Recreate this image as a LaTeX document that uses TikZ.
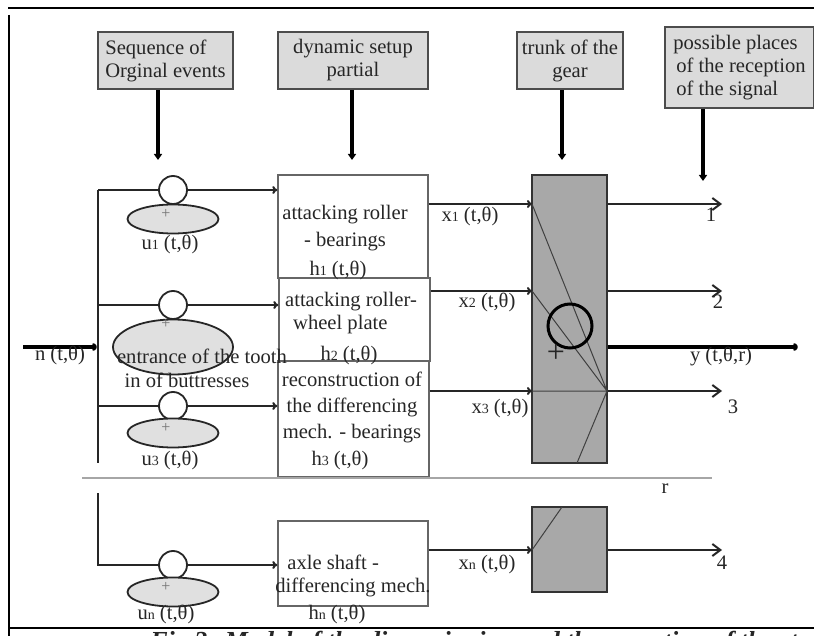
\documentclass[tikz,border=0pt]{standalone}
\usepackage{fontspec}
\setmainfont{Liberation Serif}
\usepackage{tikz}
\usetikzlibrary{positioning,arrows.meta,shapes.geometric}
\newcommand{\idx}[1]{{\fontsize{7}{7}\selectfont #1}}
\newcommand{\tth}{(t,θ)}

\begin{document}
\begin{tikzpicture}[
x=0.5pt, y=-0.5pt,
font=\fontsize{10.3}{11.5}\selectfont,
every node/.style={text=black!85},
headbox/.style={draw=black!70, fill=black!14, line width=0.8pt, inner sep=1pt, minimum height=28.5pt},
blockbox/.style={draw=black!60, fill=white, line width=0.7pt},
trunkbox/.style={draw=black!80, fill=black!34, line width=0.8pt},
roundnode/.style={circle, draw=black!85, fill=white, line width=0.9pt, minimum size=14pt, inner sep=0pt},
ovalnode/.style={ellipse, draw=black!85, fill=black!12, line width=0.9pt, minimum width=45.5pt, minimum height=14.5pt, inner sep=0pt},
txt/.style={inner sep=0pt},
plusmark/.style={inner sep=0pt, text=black!55, font=\fontsize{8}{8}\selectfont},
feed/.style={draw=black, line width=1.6pt, -{Triangle[length=3pt,width=4pt]}},
sig/.style={draw=black!85, line width=1pt, -{To[length=2.5pt,width=4pt]}},
outsig/.style={draw=black!85, line width=1pt, -{Straight Barb[length=4pt,width=6pt]}},
thinline/.style={draw=black!75, line width=0.5pt}
]
    \useasboundingbox (0,0) rectangle (814,636);

    %Frame
    \draw[line width=1pt] (8,8.5) -- (814,8.5);
    \draw[line width=1pt] (9,15) -- (9,636);
    \draw[line width=1pt] (9,628) -- (814,628);
    \begin{scope}
        \clip (0,0) rectangle (814,636);
        \node[txt, anchor=base west, font=\fontsize{13}{15}\selectfont\bfseries\itshape]
            (cap) at (150,649) {Fig.3: Model of the dimensioning and the reception of the standard shaft};
    \end{scope}

    %Headers
    \node[headbox, minimum width=67.5pt, align=left]
        (hseq)      at (165.5,60.5)  {Sequence of\\Orginal events};
    \node[headbox, minimum width=75pt, align=center]
        (hdyn)      at (353,60.5)    {dynamic setup\\partial};
    \node[headbox, minimum width=53pt, align=center]
        (htrunk)    at (570,60.5)    {trunk of the\\gear};
    \node[headbox, minimum width=74.5pt, minimum height=40.5pt, align=left]
        (hplace)    at (739.5,67.5)  {possible places\\\hspace{1.5pt}of the reception\\\hspace{1.5pt}of the signal};

    %Blocks
    \node[blockbox, minimum width=75pt, minimum height=51.5pt]   (box1)   at (353,226.5)   {};
    \node[blockbox, minimum width=75.5pt, minimum height=41.5pt] (box2)   at (354.5,319.5) {};
    \node[blockbox, minimum width=75.5pt, minimum height=58pt]   (box3)   at (353.5,419)   {};
    \node[blockbox, minimum width=75pt, minimum height=42.5pt]   (boxn)   at (353,563.5)   {};
    \node[trunkbox, minimum width=37.5pt, minimum height=144pt]  (trunk)  at (569.5,319)   {};
    \node[trunkbox, minimum width=37.5pt, minimum height=42.5pt] (trunkn) at (569.5,549.5) {};

    %Points
    \coordinate (r1) at (173,190);
    \coordinate (r2) at (173,305);
    \coordinate (r3) at (173,406);
    \coordinate (rn) at (173,565);
    \coordinate (bustop) at (98,190);
    \coordinate (busbot) at (98,463);
    \coordinate (bustopn) at (98,493);
    \coordinate (nin) at (23,347);
    \coordinate (nbus) at (97,347);
    \coordinate (k1) at (532,204);
    \coordinate (k2) at (532,291);
    \coordinate (k3) at (532,391);
    \coordinate (kn) at (532,550);
    \coordinate (o1) at (722,204);
    \coordinate (o2) at (722,291);
    \coordinate (o3) at (722,391);
    \coordinate (o4) at (722,550);
    \coordinate (oy) at (798,347);
    \coordinate (q) at (607,391);
    \coordinate (qb) at (577,463);
    \coordinate (qn) at (562,507);
    \coordinate (a1) at (158,160);
    \coordinate (a2) at (352,160);
    \coordinate (a3) at (562,160);
    \coordinate (a4) at (703,181);
    \coordinate (sepl) at (82,478);
    \coordinate (sepr) at (712,478);

    %Lines
    \draw[feed] (hseq.south -| a1) -- (a1);
    \draw[feed] (hdyn.south -| a2) -- (a2);
    \draw[feed] (htrunk.south -| a3) -- (a3);
    \draw[feed] (hplace.south -| a4) -- (a4);

    \draw[draw=black!85, line width=1pt] (bustop) -- (busbot);
    \draw[sig] (bustop) -- (r1 -| box1.west);
    \draw[sig] (r2 -| bustop) -- (r2 -| box2.west);
    \draw[sig] (r3 -| bustop) -- (r3 -| box3.west);
    \draw[sig] (bustopn) |- (rn -| boxn.west);
    \draw[draw=black, line width=1.6pt, -{To[length=2.5pt,width=4pt]}] (nin) -- (nbus);

    \draw[sig] (k1 -| box1.east) -- (k1);
    \draw[sig] (k2 -| box2.east) -- (k2);
    \draw[sig] (k3 -| box3.east) -- (k3);
    \draw[sig] (kn -| boxn.east) -- (kn);

    \draw[outsig] (k1 -| trunk.east) -- (o1);
    \draw[outsig] (k2 -| trunk.east) -- (o2);
    \draw[outsig] (k3 -| trunk.east) -- (o3);
    \draw[outsig] (kn -| trunkn.east) -- (o4);
    \draw[draw=black, line width=1.6pt, -{To[length=2.5pt,width=4pt]}] (oy -| trunk.east) -- (oy);

    \draw[thinline] (k1) -- (q) (k2) -- (q) (k3) -- (q) -- (qb);
    \draw[thinline] (kn) -- (qn);
    \draw[black!35, line width=0.9pt] (sepl) -- (sepr);

    %Summing points
    \node[roundnode] (c1) at (r1) {};
    \node[roundnode] (c2) at (r2) {};
    \node[roundnode] (c3) at (r3) {};
    \node[roundnode] (cn) at (rn) {};
    \node[ovalnode] (e1) at (173,219) {};
    \node[ovalnode, minimum width=60pt, minimum height=27.5pt] (e2) at (173,347) {};
    \node[ovalnode] (e3) at (173,433) {};
    \node[ovalnode] (en) at (173,592) {};
    \node[plusmark] (p1) at (166,214) {+};
    \node[plusmark] (p2) at (166,324) {+};
    \node[plusmark] (p3) at (166,428) {+};
    \node[plusmark] (pn) at (166,587) {+};
    \node[circle, draw=black, line width=1.5pt, minimum size=22pt, inner sep=0pt] (sum) at (570,326) {};
    \node[txt, font=\fontsize{16}{16}\selectfont] (plus) at (556,353) {+};

    %Texts
    \node[txt] (ln)  at (60,355)  {n \tth};
    \node[txt] (lu1) at (170,244) {u\idx{1} \tth};
    \node[txt] (ent1) at (202,356) {entrance of the tooth};
    \node[txt] (ent2) at (187,380) {in of buttresses};
    \node[txt] (lu3) at (170,460) {u\idx{3} \tth};
    \node[txt] (lun) at (166,614) {u\idx{n} \tth};

    \node[txt, align=center, font=\fontsize{10.3}{13.5}\selectfont] (t1) at (345,228.5) {attacking roller\\- bearings};
    \node[txt] (h1) at (338,270) {h\idx{1} \tth};
    \node[txt, align=left] (t2) at (351,313.5) {attacking roller-\\\hspace{4pt}wheel plate};
    \node[txt] (h2) at (349,355) {h\idx{2} \tth};
    \node[txt, align=center, font=\fontsize{10.3}{13}\selectfont] (t3) at (352,407) {reconstruction of\\the differencing\\mech. - bearings};
    \node[txt] (h3) at (340,460) {h\idx{3} \tth};
    \node[txt, align=left] (tn) at (353,576) {\hspace{6pt}axle shaft -\\differencing mech.};
    \node[txt] (hn) at (337,614) {h\idx{n} \tth};

    \node[txt] (lx1) at (470,216) {x\idx{1} \tth};
    \node[txt] (lx2) at (487,302) {x\idx{2} \tth};
    \node[txt] (lx3) at (500,408) {x\idx{3} \tth};
    \node[txt] (lxn) at (487,564) {x\idx{n} \tth};

    \node[txt] (l1) at (711,215) {1};
    \node[txt] (l2) at (718,302) {2};
    \node[txt] (ly) at (721,357) {y (t,θ,r)};
    \node[txt] (l3) at (733,407) {3};
    \node[txt] (l4) at (722,563) {4};
    \node[txt] (lr) at (665,489) {r};
\end{tikzpicture}
\end{document}
